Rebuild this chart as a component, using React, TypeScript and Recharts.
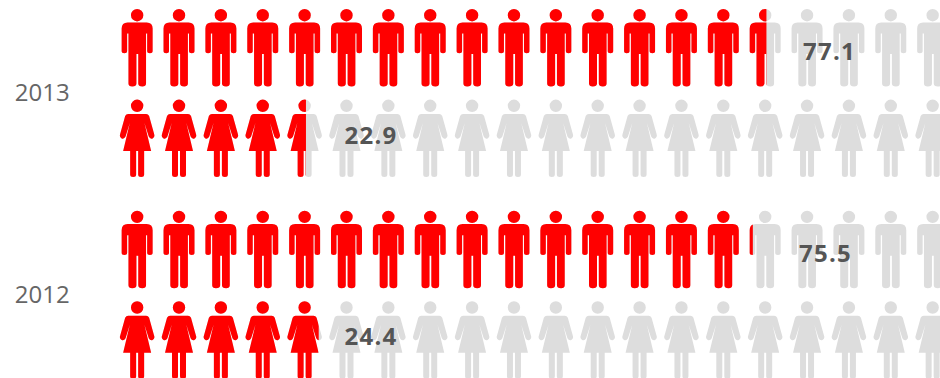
import { BarChart, Bar, XAxis, YAxis, LabelList } from "recharts";

const years = ["2013", "2012"];
const maleShare = [77.1, 75.5];
const femaleShare = [22.9, 24.4];

const chartData = years.map((year, i) => ({
  year,
  male: maleShare[i],
  female: femaleShare[i],
}));

const RED = "#ff0000";
const GRAY = "#dddddd";
const ICON_COUNT = 20;
const ICON_STEP = 41.87;
const ICON_OFFSET = 4.8; // first icon cell starts this far right of the axis zero

// both figures are drawn around x = 0, top of the head at y = 0, 78 tall
const MALE_PATH =
  "M-6.2 6.2a6.2 6.2 0 1 0 12.4 0a6.2 6.2 0 1 0 -12.4 0Z" +
  "M-9.5 13.4H9.5Q15.5 13.4 15.5 19.5V42Q15.5 44.2 12.8 44.2Q10 44.2 10 42V24.5H8.9V74.5Q8.9 77.5 5.2 77.5Q1.1 77.5 1.1 74.5V45H-0.7V74.5Q-0.7 77.5 -4.9 77.5Q-8.7 77.5 -8.7 74.5V24.5H-10V42Q-10 44.2 -12.8 44.2Q-15.5 44.2 -15.5 42V19.5Q-15.5 13.4 -9.5 13.4Z";
const FEMALE_PATH =
  "M-6.2 6.2a6.2 6.2 0 1 0 12.4 0a6.2 6.2 0 1 0 -12.4 0Z" +
  "M-9 14.5H9Q11 14.5 12 16.5L17 34.5Q18 37.5 15.5 38.8Q13 39.8 11.6 37L7.3 23.5L14 51.5H7V75Q7 77.5 4 77.5Q1 77.5 1 75V51.5H-1V75Q-1 77.5 -4 77.5Q-7 77.5 -7 75V51.5H-14L-7.3 23.5L-11.6 37Q-13 39.8 -15.5 38.8Q-18 37.5 -17 34.5L-12 16.5Q-11 14.5 -9 14.5Z";

// label centres for each year, same order as years
const MALE_LABEL_X = [829.5, 825.5];
const FEMALE_LABEL_X = [371, 371];
const MALE_LABEL_DY = 2.5;
const FEMALE_LABEL_DY = -4.5;

type RowProps = {
  x?: number;
  y?: number;
  width?: number;
  height?: number;
  index?: number;
};

function IconRow({ x = 0, y = 0, path, fill }: RowProps & { path: string; fill: string }) {
  return (
    <g>
      {Array.from({ length: ICON_COUNT }, (_, i) => (
        <path
          key={i}
          d={path}
          fill={fill}
          transform={`translate(${x + ICON_OFFSET + ICON_STEP * (i + 0.5)} ${y})`}
        />
      ))}
    </g>
  );
}

function FilledRow(props: RowProps & { path: string; id: string }) {
  const { x = 0, y = 0, width = 0, height = 0, index = 0, path, id } = props;
  const clipId = `${id}-${index}`;
  return (
    <g>
      <clipPath id={clipId}>
        <rect x={x} y={y - 2} width={width} height={height + 4} />
      </clipPath>
      <g clipPath={`url(#${clipId})`}>
        <IconRow x={x} y={y} path={path} fill={RED} />
      </g>
    </g>
  );
}

function ValueLabel(props: any, centres: number[], dy: number) {
  const { y, height, index, value } = props;
  return (
    <text
      x={centres[index]}
      y={y + height / 2 + dy}
      textAnchor="middle"
      dominantBaseline="central"
      fontFamily="'Open Sans'"
      fontWeight="bold"
      fontSize={24}
      letterSpacing={1.2}
      fill="#555555"
    >
      {value}
    </text>
  );
}

export default function App() {
  return (
    <div
      style={{
        position: "absolute",
        left: 0,
        top: 0,
        width: 940,
        height: 378,
        overflow: "hidden",
        background: "#ffffff",
      }}
    >
      <div style={{ position: "absolute", left: 0, top: -8 }}>
        <BarChart
          width={962}
          height={403.4}
          data={chartData}
          layout="vertical"
          margin={{ top: 0, right: 1, bottom: 0, left: 0 }}
          barSize={78}
          barGap={12.6}
        >
          <XAxis type="number" domain={[0, 100]} hide />
          <YAxis
            type="category"
            dataKey="year"
            width={111.4}
            axisLine={false}
            tickLine={false}
            tickSize={0}
            tickMargin={41.8}
            tick={{ fontFamily: "'Open Sans'", fontSize: 24, fill: "#666666" }}
          />
          <Bar
            dataKey="male"
            isAnimationActive={false}
            background={(p: any) => <IconRow key={p.index} x={p.x} y={p.y} path={MALE_PATH} fill={GRAY} />}
            shape={(p: any) => <FilledRow key={p.index} {...p} path={MALE_PATH} id="male" />}
          >
            <LabelList dataKey="male" content={(p: any) => ValueLabel(p, MALE_LABEL_X, MALE_LABEL_DY)} />
          </Bar>
          <Bar
            dataKey="female"
            isAnimationActive={false}
            background={(p: any) => <IconRow key={p.index} x={p.x} y={p.y} path={FEMALE_PATH} fill={GRAY} />}
            shape={(p: any) => <FilledRow key={p.index} {...p} path={FEMALE_PATH} id="female" />}
          >
            <LabelList dataKey="female" content={(p: any) => ValueLabel(p, FEMALE_LABEL_X, FEMALE_LABEL_DY)} />
          </Bar>
        </BarChart>
      </div>
    </div>
  );
}
